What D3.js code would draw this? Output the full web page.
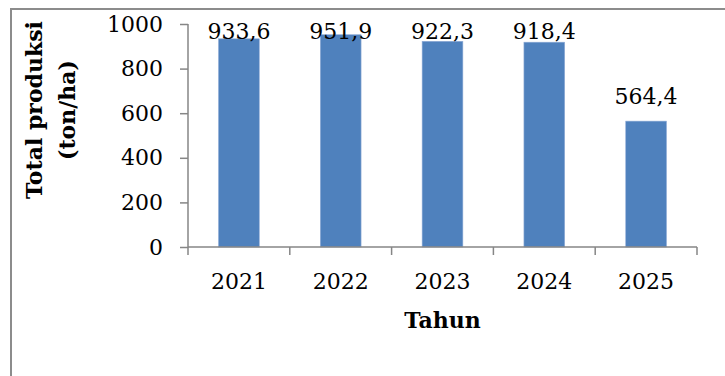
<!DOCTYPE html>
<html>
<head>
<meta charset="utf-8">
<script src="https://cdn.jsdelivr.net/npm/d3@7"></script>
<style>
  body { margin: 0; background: #fff; }
  svg text { font-family: "DejaVu Serif", serif; fill: #000; }
</style>
</head>
<body>
<div id="chart"></div>
<script>
// data
var years = ['2021', '2022', '2023', '2024', '2025'];
var production = [933.6, 951.9, 922.3, 918.4, 564.4];
var valueLabels = ['933,6', '951,9', '922,3', '918,4', '564,4'];
var yTicks = [0, 200, 400, 600, 800, 1000];

var W = 725, H = 376;
var margin = {top: 24, left: 188, right: 28, bottom: 129};
var width = W - margin.left - margin.right,
    height = H - margin.top - margin.bottom;

var svg = d3.select('#chart').append('svg')
    .attr('width', W)
    .attr('height', H);

// outer frame (right / bottom edges fall outside the picture)
svg.append('rect')
    .attr('x', 11).attr('y', 9)
    .attr('width', 760).attr('height', 420)
    .attr('fill', 'none')
    .attr('stroke', '#8c8c8c')
    .attr('stroke-width', 2);

var g = svg.append('g')
    .attr('transform', 'translate(' + margin.left + ',' + margin.top + ')');

var x = d3.scaleBand().domain(years).range([0, width]);
var y = d3.scaleLinear().domain([0, 1000]).range([height, 0]);

// bars
var barW = x.bandwidth() * 0.4;
g.selectAll('.bar')
    .data(production)
    .enter().append('rect')
    .attr('class', 'bar')
    .attr('x', function(d, i) { return x(years[i]) + (x.bandwidth() - barW) / 2; })
    .attr('y', function(d) { return y(d); })
    .attr('width', barW)
    .attr('height', function(d) { return height - y(d); })
    .attr('fill', '#4f81bd')
    .attr('stroke', '#8eaad6')
    .attr('stroke-width', 0.6);

// value labels (kept inside the chart area like Excel does)
g.selectAll('.val')
    .data(production)
    .enter().append('text')
    .attr('class', 'val')
    .attr('x', function(d, i) { return x(years[i]) + x.bandwidth() / 2; })
    .attr('y', function(d) { return Math.max(y(d) - 17, 15); })
    .attr('text-anchor', 'middle')
    .style('font-size', '22px')
    .text(function(d, i) { return valueLabels[i]; });

// y axis
var yAxis = g.append('g')
    .call(d3.axisLeft(y).tickValues(yTicks).tickFormat(d3.format('d')).tickSize(8).tickPadding(17));
yAxis.selectAll('path, line').attr('stroke', '#868686').attr('stroke-width', 1.5);
yAxis.select('.domain').attr('d', 'M0,' + height + 'V0');
yAxis.selectAll('text').style('font-size', '22px').style('font-family', '"DejaVu Serif", serif');

// x axis
var xAxis = g.append('g')
    .attr('transform', 'translate(0,' + height + ')')
    .call(d3.axisBottom(x).tickSize(0).tickPadding(26));
xAxis.select('.domain').attr('d', 'M0,0H' + width).attr('stroke', '#868686').attr('stroke-width', 1.5);
xAxis.selectAll('text').style('font-size', '22px').style('font-family', '"DejaVu Serif", serif');

// x ticks between categories
g.selectAll('.xtick')
    .data(d3.range(years.length + 1))
    .enter().append('line')
    .attr('x1', function(i) { return i * x.step(); })
    .attr('x2', function(i) { return i * x.step(); })
    .attr('y1', height)
    .attr('y2', height + 8)
    .attr('stroke', '#868686')
    .attr('stroke-width', 1.5);

// x axis title
g.append('text')
    .attr('x', width / 2)
    .attr('y', height + 81)
    .attr('text-anchor', 'middle')
    .style('font-size', '22px')
    .style('font-weight', 'bold')
    .text('Tahun');

// y axis title (two lines)
var yt = svg.append('text')
    .attr('transform', 'translate(0,110) rotate(-90)')
    .attr('text-anchor', 'middle')
    .style('font-size', '22px')
    .style('font-weight', 'bold');
yt.append('tspan').attr('x', 0).attr('y', 42).text('Total produksi');
yt.append('tspan').attr('x', 0).attr('y', 75).text('(ton/ha)');
</script>
</body>
</html>
